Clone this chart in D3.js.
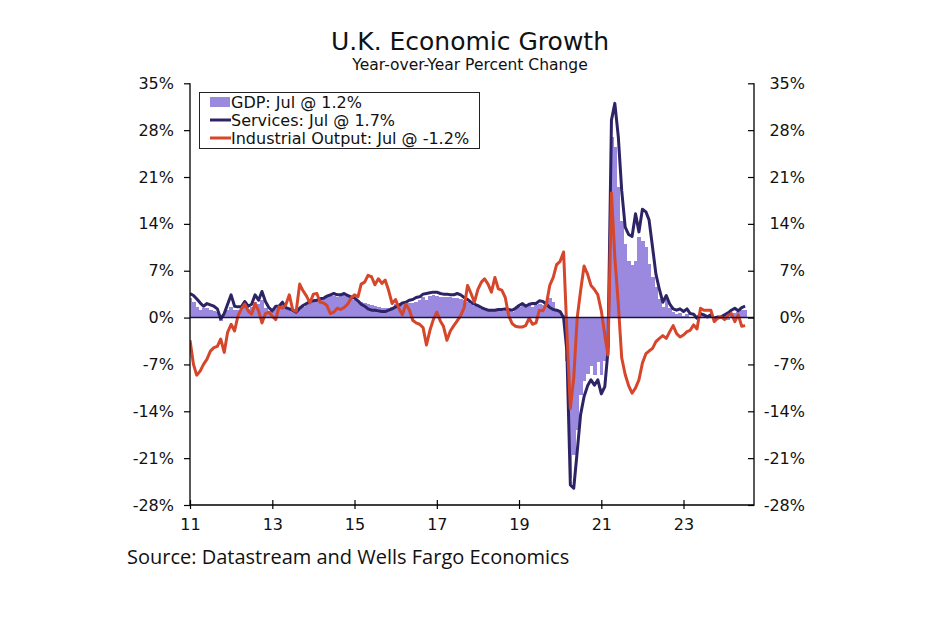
<!DOCTYPE html>
<html>
<head>
<meta charset="utf-8">
<script src="https://cdn.jsdelivr.net/npm/d3@7"></script>
<style>
  html, body { margin: 0; padding: 0; background: #ffffff; }
  svg { display: block; }
</style>
</head>
<body>
<svg id="chart" width="950" height="630"></svg>
<script>
// ---------- DATA (monthly, Jan 2011 - Jul 2024) ----------
const startMonth = new Date(2011, 0, 1);
const gdp = [
  2.9, 2.4, 1.6, 1.2, 1.5, 1.4, 1.2, 1.0, 0.8, -0.5, 0.5, 1.2,
  1.6, 1.2, 1.1, 1.3, 1.8, 1.3, 1.6, 2.3, 2.0, 2.6, 1.5, 1.0,
  0.8, 1.5, 1.4, 1.9, 1.4, 1.2, 1.0, 0.9, 1.3, 1.6, 2.0, 2.3,
  2.5, 2.6, 2.7, 2.9, 3.1, 3.2, 3.2, 3.0, 3.2, 3.4, 3.2, 2.9,
  2.7, 2.5, 2.4, 2.2, 2.1, 1.9, 1.7, 1.6, 1.5, 1.4, 1.4, 1.6,
  2.0, 2.2, 2.4, 2.1, 2.2, 2.2, 2.4, 2.6, 3.1, 2.6, 3.2, 3.3,
  3.2, 3.1, 3.0, 3.1, 3.0, 2.9, 2.9, 2.8, 2.6, 2.3, 2.0, 1.8,
  1.6, 1.3, 1.1, 1.1, 1.2, 1.2, 1.1, 1.0, 1.1, 1.0, 0.9, 1.3,
  1.6, 2.0, 1.6, 2.0, 1.6, 1.9, 2.1, 1.9, 2.5, 2.9, 2.3, 1.3,
  0.9, 0.4, -6.5, -24.0, -20.5, -16.8, -11.5, -9.5, -8.5, -7.3, -8.6, -6.6,
  -8.6, -6.5, -4.5, 27.0, 25.5, 19.5, 14.5, 11.0, 8.5, 7.8, 8.5, 12.1,
  11.5, 10.5, 8.0, 6.0, 4.5, 2.8, 1.6, 2.9, 1.5, 0.9, 0.6, 0.7,
  0.3, 0.6, 0.1, 0.1, -0.2, 0.4, 0.3, 0.2, 0.5, -0.1, 0.2, 0.3,
  -0.2, -0.3, 0.4, 0.7, 0.9, 1.1, 1.2
];
const services = [
  3.6, 3.3, 2.8, 2.2, 1.7, 2.1, 1.9, 1.7, 1.3, -0.2, 0.6, 2.0,
  3.4, 1.7, 1.6, 1.6, 2.4, 1.7, 2.0, 3.4, 2.6, 3.9, 2.4, 1.5,
  1.0, 1.7, 1.7, 2.3, 1.5, 1.3, 1.1, 0.8, 1.4, 1.8, 2.1, 2.4,
  2.5, 2.6, 2.8, 2.9, 3.2, 3.4, 3.6, 3.4, 3.4, 3.6, 3.3, 3.1,
  2.9, 2.5, 2.0, 1.7, 1.3, 1.1, 1.1, 1.0, 0.9, 0.9, 1.1, 1.3,
  1.6, 1.8, 2.2, 2.3, 2.6, 2.7, 3.0, 3.1, 3.5, 3.6, 3.7, 3.8,
  3.8, 3.6, 3.5, 3.5, 3.4, 3.4, 3.6, 3.4, 3.0, 2.7, 2.3, 2.0,
  1.8, 1.5, 1.3, 1.1, 1.1, 1.1, 1.2, 1.2, 1.3, 1.2, 1.1, 1.4,
  1.8, 2.1, 1.7, 2.0, 2.1, 2.1, 2.5, 2.4, 2.0, 1.5, 1.2, 1.1,
  0.9, 0.0, -5.0, -25.0, -25.5, -20.0, -14.5, -11.8, -10.2, -9.3, -10.1, -9.3,
  -11.4, -10.3, -5.0, 29.5, 32.0, 27.0, 19.0, 13.5, 12.4, 12.1, 15.5, 12.8,
  16.2, 15.8, 14.6, 10.5, 6.5, 4.2, 2.3, 3.3, 2.0, 1.3, 1.1, 1.3,
  0.9, 1.3, 0.6, 0.5, -0.1, 0.6, 0.4, 0.1, 0.4, -0.1, 0.1, 0.1,
  0.4, 0.7, 1.1, 1.4, 1.0, 1.5, 1.7
];
const industrial = [
  -3.4, -7.0, -8.6, -8.0, -7.0, -6.2, -5.0, -4.5, -4.3, -3.2, -5.2, -2.2,
  -1.0, -2.0, 0.2, 1.3, 2.0, 1.0, 0.5, 2.1, 1.0, -0.8, 0.6, 0.8,
  0.2, -0.3, 1.6, 1.4, 1.9, 3.4, 1.2, 0.9, 5.0, 4.0, 3.2, 2.2,
  3.5, 3.6, 2.3, 2.2, 1.8, 0.6, 0.8, 1.4, 1.2, 1.5, 2.0, 2.9,
  3.4, 3.1, 5.0, 5.3, 6.3, 6.1, 4.9, 5.8, 5.1, 5.6, 4.0, 2.1,
  2.7, 1.3, 0.4, 2.0, 1.2, -0.4, -0.8, -1.0, -1.5, -4.1, -1.9, -0.3,
  0.8, -0.5, -1.3, -3.4, -2.0, -1.2, -0.5, 0.3, 1.5, 4.8, 3.6, 2.3,
  4.2, 5.3, 5.8, 5.0, 3.8, 6.0, 4.3, 4.1, 3.0, 0.3, -0.9, -1.3,
  -1.4, -1.4, -1.2, -0.1, -1.0, -0.8, 1.1, 1.0, 2.0, 4.8, 6.0, 7.9,
  8.4, 9.8, -2.0, -13.6, -9.0, 0.0, 4.0, 7.7, 6.5, 4.8, 4.2, 3.4,
  1.0, -2.6, -5.6, 18.6, 9.0, 2.0, -6.0, -8.5, -10.2, -11.3, -10.5, -9.3,
  -6.8, -5.4, -5.0, -4.6, -3.6, -3.1, -2.7, -3.1, -2.1, -1.2, -2.4, -2.9,
  -2.6, -2.1, -1.9, -1.1, -1.7, 1.4, 1.1, 1.1, 1.1, -0.6, -0.1, 0.1,
  -0.3, 0.3, 0.6, -0.6, 0.4, -1.3, -1.2
];
const yTicks = [35, 28, 21, 14, 7, 0, -7, -14, -21, -28];
const xTickYears = [2011, 2013, 2015, 2017, 2019, 2021, 2023];
const legendLabels = ["GDP: Jul @ 1.2%", "Services: Jul @ 1.7%", "Industrial Output: Jul @ -1.2%"];

// ---------- LAYOUT ----------
const W = 950, H = 630;
const plot = { left: 190, right: 754, top: 83.3, bottom: 505 };
const colors = { gdp: "#9b88df", services: "#2d2466", industrial: "#d6462b", axis: "#000000" };
const fontMain = "DejaVu Sans, Verdana, sans-serif";

const dates = gdp.map((_, i) => d3.timeMonth.offset(startMonth, i));
const x = d3.scaleTime()
  .domain([new Date(2011, 0, 1), new Date(2024, 8, 18)])
  .range([plot.left, plot.right]);
const y = d3.scaleLinear().domain([-28, 35]).range([plot.bottom, plot.top]);

const svg = d3.select("#chart");
svg.append("rect").attr("width", W).attr("height", H).attr("fill", "#fff");

// clip
svg.append("clipPath").attr("id", "plotclip")
  .append("rect").attr("x", plot.left).attr("y", plot.top - 5)
  .attr("width", plot.right - plot.left).attr("height", plot.bottom - plot.top + 5);

const g = svg.append("g").attr("clip-path", "url(#plotclip)");

// GDP bars
const step = x(new Date(2011, 1, 1)) - x(new Date(2011, 0, 1));
g.append("g").selectAll("rect").data(gdp).join("rect")
  .attr("x", (d, i) => x(dates[i]) - step / 2)
  .attr("width", step + 0.4)
  .attr("y", d => Math.min(y(d), y(0)))
  .attr("height", d => Math.abs(y(d) - y(0)))
  .attr("fill", colors.gdp)
  .attr("shape-rendering", "crispEdges");

// zero line
svg.append("line")
  .attr("x1", plot.left).attr("x2", plot.right)
  .attr("y1", y(0)).attr("y2", y(0))
  .attr("stroke", "#1a1440").attr("stroke-width", 1.5);

const line = d3.line().x((d, i) => x(dates[i])).y(d => y(d));
g.append("path").datum(services).attr("d", line)
  .attr("fill", "none").attr("stroke", colors.services)
  .attr("stroke-width", 3).attr("stroke-linejoin", "round");
g.append("path").datum(industrial).attr("d", line)
  .attr("fill", "none").attr("stroke", colors.industrial)
  .attr("stroke-width", 3).attr("stroke-linejoin", "round");

// ---------- AXES ----------
const leftAxis = d3.axisLeft(y).tickValues(yTicks).tickFormat(d => d + "%").tickSize(6).tickPadding(10);
const la = svg.append("g").attr("transform", `translate(${plot.left},0)`).call(leftAxis);
la.select(".domain").remove();
const rightAxis = d3.axisRight(y).tickValues(yTicks).tickFormat(d => d + "%").tickSize(0).tickPadding(0);
const ra = svg.append("g").attr("transform", `translate(${plot.right},0)`).call(rightAxis);
ra.select(".domain").remove();
ra.selectAll(".tick text").attr("text-anchor", "end").attr("x", 51);
ra.selectAll(".tick").append("line").attr("x1", -6).attr("x2", 0).attr("stroke", colors.axis);

const bottomAxis = d3.axisBottom(x)
  .tickValues(xTickYears.map(yv => new Date(yv, 0, 1)))
  .tickFormat(d3.timeFormat("%y")).tickSize(0).tickPadding(14);
const ba = svg.append("g").attr("transform", `translate(0,${plot.bottom})`).call(bottomAxis);
ba.select(".domain").remove();
ba.selectAll(".tick").append("line").attr("y1", -5).attr("y2", 4).attr("stroke", colors.axis);

[la, ra, ba].forEach(a => {
  a.selectAll("text").attr("font-family", fontMain).attr("font-size", 16).attr("fill", "#111");
  a.selectAll(".tick line").attr("stroke", colors.axis).attr("stroke-width", 1.2);
});

// frame lines
svg.append("path")
  .attr("d", `M${plot.left},${plot.top}V${plot.bottom}H${plot.right}V${plot.top}`)
  .attr("fill", "none").attr("stroke", colors.axis).attr("stroke-width", 1.3);

// ---------- TITLES ----------
svg.append("text").attr("x", 470).attr("y", 50)
  .attr("text-anchor", "middle").attr("font-family", fontMain).attr("font-size", 25)
  .attr("fill", "#111").text("U.K. Economic Growth");
svg.append("text").attr("x", 470).attr("y", 70)
  .attr("text-anchor", "middle").attr("font-family", fontMain).attr("font-size", 15.5)
  .attr("fill", "#111").text("Year-over-Year Percent Change");
svg.append("text").attr("x", 127).attr("y", 564)
  .attr("font-family", "Open Sans, Noto Sans, sans-serif").attr("font-size", 20)
  .attr("fill", "#111").text("Source: Datastream and Wells Fargo Economics");

// ---------- LEGEND ----------
const lg = svg.append("g");
lg.append("rect").attr("x", 199.5).attr("y", 92.5).attr("width", 280).attr("height", 56)
  .attr("fill", "#fff").attr("stroke", "#222").attr("stroke-width", 1);
const rows = [102, 120, 138];
lg.append("rect").attr("x", 210).attr("y", rows[0] - 5).attr("width", 20).attr("height", 10).attr("fill", colors.gdp);
lg.append("line").attr("x1", 210).attr("x2", 231).attr("y1", rows[1]).attr("y2", rows[1])
  .attr("stroke", colors.services).attr("stroke-width", 3);
lg.append("line").attr("x1", 210).attr("x2", 231).attr("y1", rows[2]).attr("y2", rows[2])
  .attr("stroke", colors.industrial).attr("stroke-width", 3);
legendLabels.forEach((t, i) => {
  lg.append("text").attr("x", 231).attr("y", rows[i]).attr("dy", "0.36em")
    .attr("font-family", fontMain).attr("font-size", 16).attr("fill", "#111").text(t);
});
</script>
</body>
</html>
